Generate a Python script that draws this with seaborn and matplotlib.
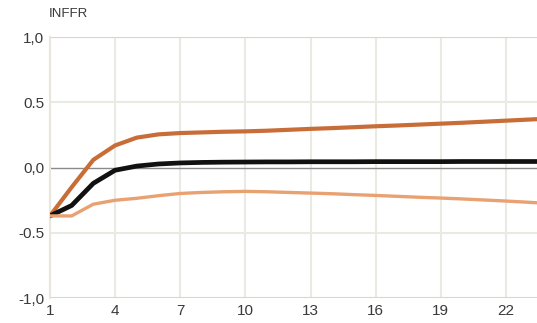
import numpy as np
import pandas as pd
import seaborn as sns
import matplotlib
matplotlib.use("Agg")
import matplotlib.pyplot as plt

# Impulse response of INFFR with upper/lower bands
horizon = list(range(1, 25))
upper = [-0.37, -0.15, 0.06, 0.17, 0.23, 0.255, 0.265, 0.27, 0.275, 0.278, 0.283, 0.29,
         0.297, 0.303, 0.31, 0.317, 0.323, 0.33, 0.337, 0.344, 0.352, 0.36, 0.368, 0.376]
response = [-0.37, -0.29, -0.12, -0.02, 0.012, 0.028, 0.036, 0.04, 0.042, 0.043, 0.044, 0.044,
            0.045, 0.045, 0.045, 0.046, 0.046, 0.046, 0.046, 0.047, 0.047, 0.047, 0.047, 0.047]
lower = [-0.37, -0.37, -0.28, -0.25, -0.235, -0.215, -0.198, -0.19, -0.185, -0.182, -0.185, -0.19,
         -0.195, -0.2, -0.207, -0.213, -0.22, -0.227, -0.233, -0.24, -0.248, -0.256, -0.265, -0.275]
series_names = ["upper", "response", "lower"]
series_colors = {"upper": "#c96d38", "response": "#111111", "lower": "#e9a172"}
series_widths = {"upper": 3.0, "response": 3.4, "lower": 2.4}

ytick_vals = [-1.0, -0.5, 0.0, 0.5, 1.0]
ytick_labels = ["-1,0", "-0.5", "0,0", "0.5", "1,0"]
xtick_vals = [1, 4, 7, 10, 13, 16, 19, 22]

df = pd.DataFrame({"h": horizon * 3,
                   "value": upper + response + lower,
                   "series": ["upper"] * 24 + ["response"] * 24 + ["lower"] * 24})

sns.set_style("white")
plt.rcParams["font.family"] = ["Liberation Sans", "DejaVu Sans"]
fig = plt.figure(figsize=(5.37, 3.23), dpi=100)
ax = fig.add_axes([0.093, 0.077, 0.93, 0.808])

# grid
for xv in xtick_vals:
    ax.axvline(xv, color="#e8eae4", lw=1.5, zorder=0)
for yv in [-0.5, 0.5]:
    ax.axhline(yv, color="#e8eae4", lw=1.5, zorder=0)
ax.axhline(0.0, color="#8a8a8a", lw=1.0, zorder=1)
ax.axhline(1.0, color="#ebcfb2", lw=1.5, zorder=1)
ax.axhline(-1.0, color="#e6d2be", lw=1.5, zorder=1)

for name in series_names:
    sub = df[df["series"] == name]
    sns.lineplot(data=sub, x="h", y="value", ax=ax, color=series_colors[name],
                 lw=series_widths[name], legend=False, zorder=3,
                 solid_joinstyle="round", solid_capstyle="round")

ax.set_xlim(1, 24)
ax.set_ylim(-1.0, 1.0)
ax.set_xticks(xtick_vals)
ax.set_xticklabels([str(v) for v in xtick_vals])
ax.set_yticks(ytick_vals)
ax.set_yticklabels(ytick_labels)
ax.tick_params(axis="both", length=0, labelsize=11, colors="#3a3a3a", pad=4)
ax.set_xlabel("")
ax.set_ylabel("")
for s in ["top", "right", "bottom"]:
    ax.spines[s].set_visible(False)
ax.spines["left"].set_color("#ebe6da")
ax.spines["left"].set_linewidth(1.5)

fig.text(0.09, 0.958, "INFFR", fontsize=9.5, color="#3a3a3a", ha="left", va="center")

fig.savefig("out.png", dpi=100, facecolor="white")
